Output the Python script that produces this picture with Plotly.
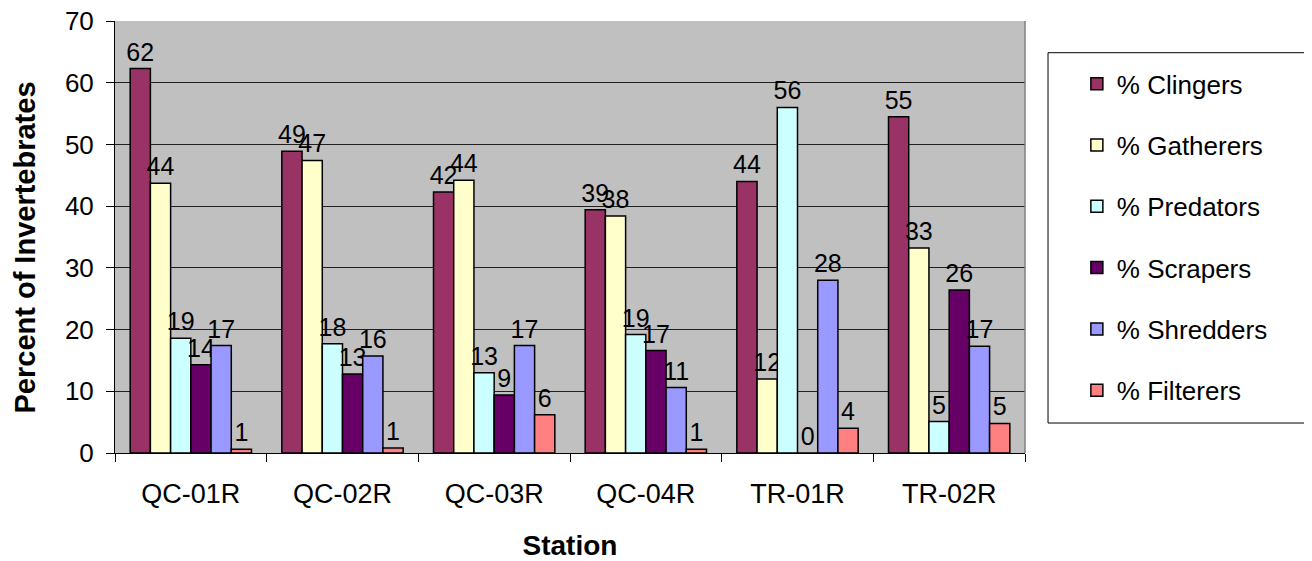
import plotly.graph_objects as go

stations = ["QC-01R", "QC-02R", "QC-03R", "QC-04R", "TR-01R", "TR-02R"]
clingers = [62.3, 48.9, 42.3, 39.4, 44.0, 54.5]
gatherers = [43.7, 47.4, 44.2, 38.4, 12.0, 33.2]
predators = [18.6, 17.7, 13.0, 19.2, 56.0, 5.1]
scrapers = [14.3, 12.8, 9.4, 16.6, 0.0, 26.4]
shredders = [17.4, 15.7, 17.4, 10.6, 28.0, 17.3]
filterers = [0.6, 0.8, 6.2, 0.6, 4.0, 4.8]

series = [
    ("% Clingers", clingers, "#993366"),
    ("% Gatherers", gatherers, "#FFFFCC"),
    ("% Predators", predators, "#CCFFFF"),
    ("% Scrapers", scrapers, "#660066"),
    ("% Shredders", shredders, "#9999FF"),
    ("% Filterers", filterers, "#FF8080"),
]

FONT = "Arial, Liberation Sans, sans-serif"

fig = go.Figure()
for i, (name, vals, col) in enumerate(series):
    fig.add_trace(go.Bar(
        x=stations, y=vals, name=name, legendgroup=f"g{i}",
        marker=dict(color=col, line=dict(color="black", width=1.5)),
        texttemplate="%{y:.0f}", textposition="outside",
        textfont=dict(family=FONT, size=25, color="black"),
        constraintext="none",
        cliponaxis=False,
    ))

# page body has an 8px margin, so the figure is shrunk and shifted by 8px
fig.update_layout(
    width=1304, height=553,
    margin=dict(l=107, r=287, t=13, b=108, autoexpand=False),
    paper_bgcolor="white", plot_bgcolor="#C0C0C0",
    barmode="group", bargap=0.2, bargroupgap=0,
    font=dict(family=FONT, size=26, color="black"),
    showlegend=True,
    legend=dict(
        x=1.057, y=0.909, xanchor="left", yanchor="top",
        font=dict(family=FONT, size=26, color="black"),
        tracegroupgap=24.5, bgcolor="rgba(0,0,0,0)",
    ),
    xaxis=dict(
        title=dict(text="<b>Station</b>", font=dict(size=28), standoff=29),
        tickson="boundaries", ticks="outside", ticklen=8, tickcolor="black",
        showline=True, linecolor="black", linewidth=1,
        tickfont=dict(size=27), showgrid=False,
        ticklabelstandoff=17, automargin=False,
    ),
    yaxis=dict(
        range=[0, 70], dtick=10, ticks="outside", ticklen=8, tickcolor="black",
        showline=True, linecolor="black", linewidth=1,
        gridcolor="#202020", gridwidth=1, zeroline=False,
        tickfont=dict(size=26), ticklabelstandoff=7,
        ticklabeloverflow="allow", automargin=False,
    ),
    annotations=[
        dict(text="<b>Percent of Invertebrates</b>", xref="paper", yref="paper",
             x=-0.0989, y=0.4757, xanchor="center", yanchor="middle",
             textangle=-90, showarrow=False,
             font=dict(family=FONT, size=29, color="black")),
    ],
    shapes=[
        dict(type="rect", xref="paper", yref="paper",
             x0=1.0253, x1=1.3143, y0=0.0694, y1=0.9266,
             line=dict(color="black", width=1), fillcolor="rgba(0,0,0,0)"),
        dict(type="line", xref="paper", yref="paper",
             x0=1, x1=1, y0=0, y1=1, line=dict(color="#808080", width=1.5)),
    ],
)

fig.write_html("out.html")
